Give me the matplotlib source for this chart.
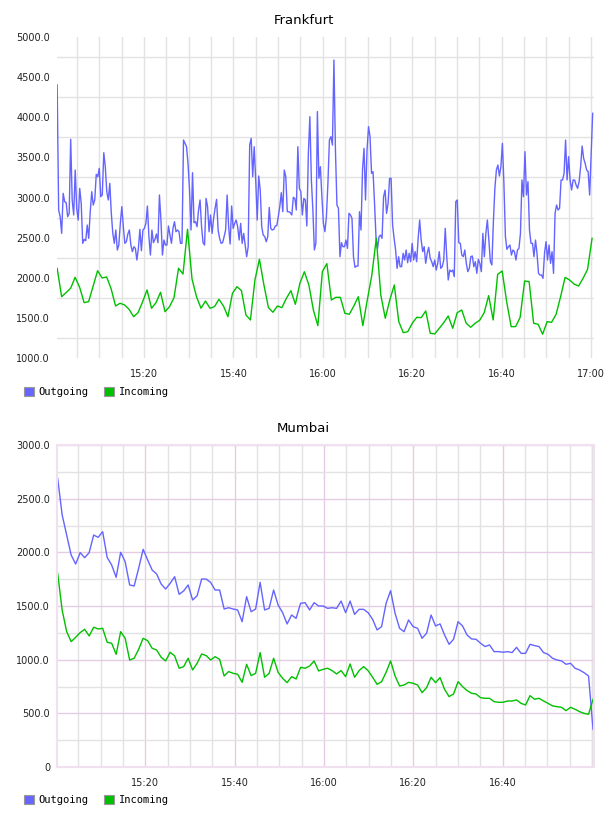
import numpy as np
import pandas as pd
import matplotlib
matplotlib.use("Agg")
import matplotlib.pyplot as plt
import matplotlib.dates as mdates
from matplotlib.patches import Patch
from matplotlib.ticker import FuncFormatter, FixedLocator

# Frankfurt, outgoing (~20 s samples) and incoming (1 min samples)
fra_out = [
    4402, 2844, 2761, 2553, 3052, 2948, 2935, 2761, 2802, 3725, 2969, 2782, 3342, 2865, 2719, 3114,
    2927, 2429, 2478, 2462, 2657, 2491, 2823, 3072, 2906, 2969, 3288, 3259, 3363, 3010, 3031, 3558,
    3384, 3072, 2969, 3176, 2802, 2553, 2429, 2595, 2345, 2408, 2678, 2886, 2636, 2429, 2449, 2545,
    2595, 2408, 2325, 2387, 2366, 2221, 2366, 2603, 2337, 2595, 2615, 2678, 2894, 2512, 2283, 2595,
    2437, 2478, 2545, 2437, 3031, 2719, 2283, 2470, 2408, 2408, 2645, 2532, 2429, 2615, 2698, 2574,
    2595, 2574, 2429, 2429, 3716, 3675,
    3633, 3425, 3093, 2595, 3309, 2686, 2699, 2636, 2844, 2969, 2636, 2437, 2408, 2989, 2886, 2574,
    2782, 2553, 2740, 2865, 2977, 2595, 2491, 2429, 2437, 2512, 2595, 3031, 2636, 2420, 2894, 2615,
    2678, 2719, 2636, 2470, 2678, 2429, 2553, 2408, 2262, 2387, 3654, 3737, 3259, 3633, 3218, 2719,
    3268, 3093, 2636, 2532, 2512, 2449, 2512, 2877, 2615, 2595, 2603, 2645, 2649, 2761, 2886, 3060,
    2823, 3342, 3259, 2823, 2823, 2811, 2782, 3002, 2989, 2844, 3633, 3114, 3072, 2782, 2989, 2969,
    2645, 3550, 4007, 3218, 2844,
    2346, 2429, 4070, 3239, 3384, 3010, 2678, 2574, 2761, 3176, 3716, 3758, 3654, 4713, 3592, 2906,
    2865, 2262, 2437, 2387, 2387, 2470, 2366, 2803, 2782, 2740, 2262, 2130, 2146, 2146, 2823, 2595,
    3343, 3613, 2969, 3592, 3883, 3758, 3301, 3322, 2927, 2491, 2366, 2512, 2532, 2491, 3010, 3093,
    2803, 2927, 3239, 3239, 2657, 2491, 2346, 2117, 2262, 2138, 2138, 2304, 2221, 2346, 2188, 2304,
    2200, 2429, 2221, 2325, 2200, 2491, 2720, 2470, 2325, 2387, 2180, 2304, 2379, 2242, 2200, 2138,
    2221, 2096, 2180, 2325, 2117, 2138, 2221, 2616, 2262, 1972, 2096, 2076,
    2096, 2013, 2948, 2969, 2437, 2429, 2283, 2263, 2346, 2180, 2076, 2117, 2263, 2271, 2138, 2200,
    2055, 2229, 2180, 2076, 2553, 2263, 2553, 2720, 2470, 2200, 2159, 2699, 3114, 3343, 3405, 3268,
    3384, 3675, 3176, 2512, 2354, 2387, 2408, 2283, 2346, 2325, 2221, 2346, 2366, 2553, 3218, 3010,
    3571, 3031, 3197, 2595, 2429, 2429, 2263, 2470, 2304, 2055, 2034, 2034, 1993, 2304, 2450, 2221,
    2408, 2180, 2325, 2055, 2803, 2906, 2844, 2865, 3218, 3218, 3301, 3716, 3218, 3509, 3218, 3093,
    3218, 3218, 3156, 3114, 3197, 3384, 3642, 3488, 3426, 3343, 3322, 3031, 3550, 4049,
]
fra_in = [
    2118, 1764, 1815, 1869, 2006, 1881, 1690, 1702, 1895, 2088, 1997, 2010, 1864, 1648, 1682, 1661,
    1607, 1515, 1565, 1698, 1848, 1620, 1690, 1819, 1577, 1640, 1752, 2118, 2047, 2604, 1985, 1764,
    1620, 1710, 1620, 1640, 1732, 1648, 1515, 1806, 1889, 1839, 1536, 1474, 1973, 2231, 1910, 1628,
    1570, 1648, 1628, 1744, 1839, 1669, 1931, 2075, 1910, 1598, 1403, 2076, 2176, 1723, 1756, 1756,
    1557, 1545, 1648, 1764, 1403, 1723, 2031, 2492, 1785, 1495, 1723, 1910, 1453, 1316, 1328, 1433,
    1507, 1503, 1586, 1308, 1300, 1370, 1440, 1524, 1370, 1565, 1598, 1433, 1383, 1433, 1470, 1565,
    1777, 1474, 2043, 2084, 1702, 1391, 1391, 1507, 1960, 1951, 1433, 1420, 1296, 1453, 1445, 1545,
    1764, 2005, 1972, 1922, 1897, 1993, 2105, 2491,
]

# Mumbai, both 1 min samples
mum_out = [
    2689, 2348, 2161, 1975, 1891, 1997, 1950, 1997, 2161, 2140, 2192, 1953, 1882, 1767, 2000, 1913,
    1696, 1686, 1851, 2028, 1929, 1835, 1798, 1705, 1658, 1711, 1773, 1609, 1640, 1696, 1556, 1596,
    1751, 1751, 1720, 1649, 1649, 1472, 1484, 1472, 1463, 1354, 1587, 1447, 1472, 1720, 1463, 1478,
    1649, 1509, 1438, 1333, 1416, 1385, 1525,
    1531, 1463, 1531, 1500, 1500, 1478, 1484, 1478, 1546, 1438, 1546, 1422, 1469, 1469, 1438, 1376,
    1277, 1308, 1525, 1643, 1432, 1292, 1261, 1370, 1308, 1292, 1199, 1246, 1416, 1314, 1333, 1230,
    1143, 1190, 1354, 1314, 1230, 1193, 1190, 1153, 1122, 1137, 1075, 1075, 1069, 1075, 1066, 1115,
    1059, 1059, 1143, 1131, 1122, 1066, 1050, 1013, 997, 988, 957, 966, 920, 904, 879, 848, 351,
]
mum_in = [
    1804, 1460, 1261, 1168, 1208, 1252, 1283, 1221, 1302, 1286, 1292, 1162, 1153, 1050, 1261, 1199,
    997, 1013, 1097, 1199, 1177, 1106, 1090, 1022, 988, 1069, 1035, 920, 935, 1013, 904, 966,
    1053, 1038, 997, 1028, 1003, 848, 889, 873, 864, 789, 957, 851, 873, 1066, 836, 873,
    1013, 882, 826, 786, 842, 820, 929,
    920, 941, 988, 895, 910, 920, 898, 867, 898, 842, 960, 836, 898, 935, 898, 836,
    770, 795, 882, 988, 848, 755, 764, 789, 780, 764, 693, 739, 836, 786, 833, 724,
    656, 680, 795, 749, 712, 687, 680, 646, 640, 640, 609, 603, 603, 615, 615, 625,
    593, 578, 665, 631, 640, 615, 593, 569, 562, 556, 525, 556, 538, 516, 500, 491, 631,
]

day = "2024-01-01 "
fra_out_t = pd.date_range(day + "15:00:34", day + "17:00:22", periods=len(fra_out))
fra_in_t = pd.date_range(day + "15:00:34", day + "17:00:14", periods=len(fra_in))
mum_out_t = pd.date_range(day + "15:00:23", day + "17:00:13", periods=len(mum_out))
mum_in_t = pd.date_range(day + "15:00:23", day + "17:00:13", periods=len(mum_in))

BLUE = "#6464ff"
GREEN = "#00c000"
GREY = "#e2e2e2"
PURPLE = "#e4cce4"

plt.rcParams["font.family"] = ["DejaVu Sans"]
fig = plt.figure(figsize=(6.08, 8.16), dpi=100)


def ylab(v, pos):
    return "0" if v == 0 else "%.1f" % v


def setup(ax, ymin, ymax, xmin, xmax):
    ax.set_xlim(pd.Timestamp(day + xmin), pd.Timestamp(day + xmax))
    ax.set_ylim(ymin, ymax)
    ax.xaxis.set_major_locator(mdates.MinuteLocator(byminute=[0, 20, 40]))
    ax.xaxis.set_minor_locator(mdates.MinuteLocator(byminute=range(0, 60, 5)))
    ax.xaxis.set_major_formatter(mdates.DateFormatter("%H:%M"))
    ax.yaxis.set_major_formatter(FuncFormatter(ylab))
    ax.tick_params(which="both", length=0, labelsize=7, colors="#222222")
    ax.tick_params(axis="y", pad=5)
    ax.tick_params(axis="x", pad=8)
    ax.set_axisbelow(True)


def legend(y):
    handles = [Patch(facecolor="#6666ff", edgecolor="#999999", linewidth=0.8, label="Outgoing"),
               Patch(facecolor=GREEN, edgecolor="#999999", linewidth=0.8, label="Incoming")]
    fig.legend(handles=handles, loc="upper left", bbox_to_anchor=(24 / 608, y), ncol=2,
               frameon=False, borderpad=0, borderaxespad=0, handlelength=0.95, handleheight=0.95,
               handletextpad=0.45, columnspacing=1.5,
               prop={"family": "DejaVu Sans Mono", "size": 7.5})


# Frankfurt
ax1 = fig.add_axes([57 / 608, 1 - 358 / 816, 537 / 608, 321 / 816])
ax1.plot(fra_out_t, fra_out, color=BLUE, lw=1.0)
ax1.plot(fra_in_t, fra_in, color=GREEN, lw=1.0)
setup(ax1, 1000, 5000, "15:00:32", "17:00:40")
ax1.set_yticks(np.arange(1000, 5001, 500))
ax1.yaxis.set_minor_locator(FixedLocator(np.arange(1250, 5000, 500)))
ax1.xaxis.grid(True, which="both", color=GREY, lw=1.0)
ax1.yaxis.grid(True, which="minor", color=GREY, lw=1.0)
for s in ax1.spines.values():
    s.set_visible(False)
fig.text(304 / 608, 1 - 20 / 816, "Frankfurt", ha="center", va="center", fontsize=9.5)
legend(1 - 387 / 816)

# Mumbai
ax2 = fig.add_axes([57 / 608, 1 - 767 / 816, 537 / 608, 322 / 816])
ax2.plot(mum_out_t, mum_out, color=BLUE, lw=1.0)
ax2.plot(mum_in_t, mum_in, color=GREEN, lw=1.0)
setup(ax2, 0, 3000, "15:00:14", "17:00:26")
ax2.set_yticks(np.arange(0, 3001, 500))
ax2.yaxis.set_minor_locator(FixedLocator(np.arange(250, 3000, 500)))
ax2.set_xticks([pd.Timestamp(day + t) for t in ["15:20", "15:40", "16:00", "16:20", "16:40"]])
ax2.xaxis.grid(True, which="major", color=PURPLE, lw=1.0)
ax2.xaxis.grid(True, which="minor", color=GREY, lw=1.0)
ax2.yaxis.grid(True, which="major", color=PURPLE, lw=1.0)
ax2.yaxis.grid(True, which="minor", color=GREY, lw=1.0)
ax2.axvline(pd.Timestamp(day + "17:00"), color=PURPLE, lw=1.0, zorder=0)
for s in ax2.spines.values():
    s.set_color("#f0e0f0")
    s.set_linewidth(1.5)
fig.text(303 / 608, 1 - 429 / 816, "Mumbai", ha="center", va="center", fontsize=9.5)
legend(1 - 795 / 816)

fig.savefig("out.png", dpi=100)
